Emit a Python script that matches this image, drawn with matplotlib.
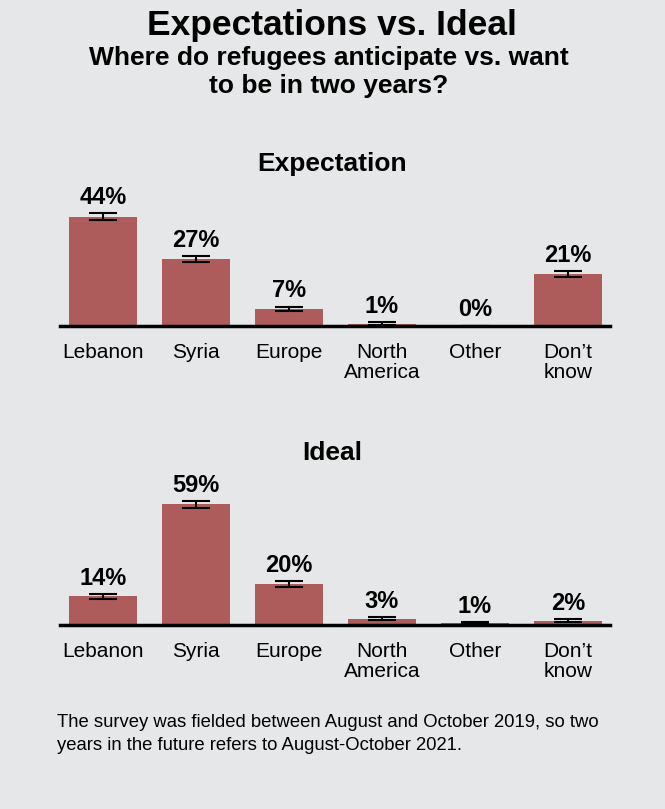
import numpy as np
import matplotlib.pyplot as plt

plt.rcParams['font.family'] = ['Liberation Sans', 'DejaVu Sans']

categories = ['Lebanon', 'Syria', 'Europe', 'North\nAmerica', 'Other', 'Don\u2019t\nknow']
expectation = [44, 27, 7, 1, 0, 21]
expectation_err = [1.4, 1.3, 0.8, 0.5, 0.2, 1.2]
ideal = [14, 59, 20, 3, 1, 2]
ideal_err = [1.1, 1.6, 1.5, 0.8, 0.4, 0.7]

bg = '#e6e7e8'
bar_color = '#ad5b5b'

W, H = 665, 809
fig = plt.figure(figsize=(W / 100, H / 100), dpi=100, facecolor=bg)


def draw_panel(rect, vals, errs, ymax):
    ax = fig.add_axes(rect)
    ax.set_facecolor(bg)
    x = np.arange(len(categories))
    ax.bar(x, vals, width=0.73, color=bar_color, zorder=2)
    ax.errorbar(x, vals, yerr=errs, fmt='none', ecolor='black',
                elinewidth=1.5, capsize=10, capthick=1.5, zorder=3)
    for xi, v, e in zip(x, vals, errs):
        ax.annotate(f'{v}%', (xi, v + e), xytext=(0, 3), textcoords='offset points',
                    ha='center', va='bottom', fontsize=17, fontweight='bold')
    ax.set_xlim(-0.46, 5.45)
    ax.set_ylim(0, ymax)
    for s in ['top', 'right', 'left']:
        ax.spines[s].set_visible(False)
    ax.spines['bottom'].set_linewidth(2.5)
    ax.spines['bottom'].set_color('black')
    ax.set_yticks([])
    ax.set_xticks(x)
    ax.set_xticklabels(categories, fontsize=15, linespacing=1.1)
    ax.tick_params(axis='x', length=0, pad=12)
    return ax


def fy(px):
    return 1 - px / H


top = draw_panel([60 / W, fy(326), 550 / W, 124 / H], expectation, expectation_err, 50)
bot = draw_panel([60 / W, fy(625), 550 / W, 133 / H], ideal, ideal_err, 65)

fig.text(332 / W, fy(25), 'Expectations vs. Ideal', ha='center', va='center',
         fontsize=25.5, fontweight='bold')
fig.text(329 / W, fy(72), 'Where do refugees anticipate vs. want\nto be in two years?',
         ha='center', va='center', fontsize=19, fontweight='bold', linespacing=1.25)
fig.text(332 / W, fy(164), 'Expectation', ha='center', va='center', fontsize=19, fontweight='bold')
fig.text(332 / W, fy(453), 'Ideal', ha='center', va='center', fontsize=19, fontweight='bold')
fig.text(57 / W, fy(734), 'The survey was fielded between August and October 2019, so two\n'
         'years in the future refers to August-October 2021.',
         ha='left', va='center', fontsize=13.3, linespacing=1.4)

fig.savefig('out.png', dpi=100, facecolor=bg)
